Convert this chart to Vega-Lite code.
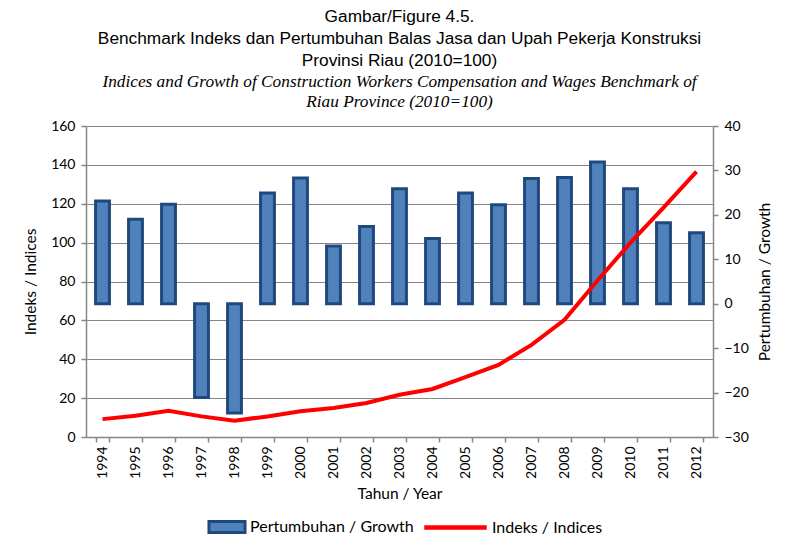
{
  "$schema": "https://vega.github.io/schema/vega-lite/v6.json",
  "width": 627,
  "height": 311,
  "autosize": {"type": "none"},
  "padding": {"left": 86, "top": 126, "right": 74, "bottom": 115},
  "background": "white",
  "title": {
    "text": ["Gambar/Figure 4.5.", "Benchmark Indeks dan Pertumbuhan Balas Jasa dan Upah Pekerja Konstruksi", "Provinsi Riau (2010=100)"],
    "subtitle": ["Indices and Growth of Construction Workers Compensation and Wages Benchmark of", "Riau Province (2010=100)"],
    "font": "Liberation Sans",
    "fontSize": 17.3,
    "fontWeight": "normal",
    "color": "black",
    "lineHeight": 22,
    "subtitleFont": "Liberation Serif",
    "subtitleFontStyle": "italic",
    "subtitleFontSize": 17.3,
    "subtitleColor": "black",
    "subtitleLineHeight": 20,
    "subtitlePadding": 3,
    "anchor": "middle",
    "offset": 9
  },
  "data": {
    "values": [
      {"year": "1994", "growth": 23.1, "index": 9.2},
      {"year": "1995", "growth": 19.0, "index": 10.9},
      {"year": "1996", "growth": 22.4, "index": 13.5},
      {"year": "1997", "growth": -21.1, "index": 10.6},
      {"year": "1998", "growth": -24.6, "index": 8.4},
      {"year": "1999", "growth": 24.9, "index": 10.6},
      {"year": "2000", "growth": 28.3, "index": 13.2},
      {"year": "2001", "growth": 13.0, "index": 14.9},
      {"year": "2002", "growth": 17.4, "index": 17.5},
      {"year": "2003", "growth": 25.9, "index": 21.7},
      {"year": "2004", "growth": 14.7, "index": 24.7},
      {"year": "2005", "growth": 24.9, "index": 30.8},
      {"year": "2006", "growth": 22.3, "index": 37.1},
      {"year": "2007", "growth": 28.2, "index": 47.4},
      {"year": "2008", "growth": 28.4, "index": 60.3},
      {"year": "2009", "growth": 31.9, "index": 80.5},
      {"year": "2010", "growth": 25.9, "index": 100.0},
      {"year": "2011", "growth": 18.2, "index": 118.0},
      {"year": "2012", "growth": 16.0, "index": 136.5}
    ]
  },
  "encoding": {
    "x": {
      "field": "year",
      "type": "ordinal",
      "scale": {"paddingInner": 0.58, "paddingOuter": 0.29},
      "axis": {
        "title": "Tahun / Year",
        "labelAngle": -90,
        "labelAlign": "right",
        "labelBaseline": "middle",
        "tickBand": "extent",
        "tickSize": 5,
        "labelPadding": 4,
        "titlePadding": 8
      }
    }
  },
  "layer": [
    {
      "mark": {"type": "bar", "stroke": "#1F497D", "strokeWidth": 3},
      "encoding": {
        "y": {
          "field": "growth",
          "type": "quantitative",
          "scale": {"domain": [-30, 40], "nice": false},
          "axis": {
            "orient": "right",
            "title": "Pertumbuhan / Growth",
            "titleAngle": 270,
            "values": [-30, -20, -10, 0, 10, 20, 30, 40],
            "grid": false,
            "tickSize": 5,
            "labelPadding": 6,
            "titlePadding": 24
          }
        },
        "fill": {
          "datum": "Pertumbuhan / Growth",
          "scale": {"range": ["#4F81BD"]},
          "legend": {
            "title": null,
            "orient": "none",
            "legendX": 121,
            "legendY": 381,
            "direction": "horizontal",
            "symbolType": "M-1,-0.3H1V0.3H-1Z",
            "symbolSize": 1300,
            "symbolStrokeColor": "#1F497D",
            "symbolStrokeWidth": 3,
            "symbolOpacity": 1,
            "labelFont": "Lato",
            "labelFontSize": 16,
            "labelOffset": 3,
            "labelLimit": 400,
            "labelColor": "black"
          }
        }
      }
    },
    {
      "mark": {"type": "line", "strokeWidth": 4},
      "encoding": {
        "y": {
          "field": "index",
          "type": "quantitative",
          "scale": {"domain": [0, 160], "nice": false},
          "axis": {
            "orient": "left",
            "title": "Indeks / Indices",
            "values": [0, 20, 40, 60, 80, 100, 120, 140, 160],
            "grid": true,
            "tickSize": 5,
            "labelPadding": 6,
            "titlePadding": 12
          }
        },
        "stroke": {
          "datum": "Indeks / Indices",
          "scale": {"range": ["#FF0000"]},
          "legend": {
            "title": null,
            "orient": "none",
            "legendX": 336,
            "legendY": 368,
            "direction": "horizontal",
            "symbolType": "stroke",
            "symbolSize": 3900,
            "symbolStrokeWidth": 4.5,
            "labelFont": "Lato",
            "labelFontSize": 16,
            "labelOffset": 3,
            "labelLimit": 400,
            "labelColor": "black"
          }
        }
      }
    }
  ],
  "resolve": {"scale": {"y": "independent"}},
  "config": {
    "view": {"stroke": null},
    "axis": {
      "labelFont": "Lato",
      "labelFontSize": 14,
      "labelColor": "black",
      "titleFont": "Lato",
      "titleFontSize": 15.5,
      "titleFontWeight": "normal",
      "titleColor": "black",
      "domainColor": "#868686",
      "domainWidth": 1.5,
      "tickColor": "#868686",
      "tickWidth": 1.5,
      "gridColor": "#868686",
      "gridWidth": 1.2
    }
  }
}
